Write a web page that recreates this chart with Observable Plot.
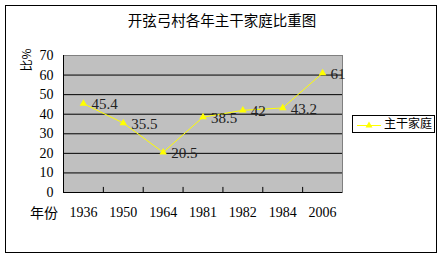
<!DOCTYPE html>
<html><head><meta charset="utf-8">
<script src="https://cdn.jsdelivr.net/npm/d3@7"></script>
<script src="https://cdn.jsdelivr.net/npm/@observablehq/plot@0.6"></script>
<style>
html,body{margin:0;padding:0;background:#fff;}
#wrap{position:relative;width:444px;height:259px;overflow:hidden;font-family:"Liberation Sans","Noto Sans CJK SC",sans-serif;}
#border{position:absolute;left:5px;top:5px;width:430px;height:246px;border:1.5px solid #000;}
.abs{position:absolute;white-space:nowrap;line-height:1;color:#000;}
#title{left:0;width:444px;top:13px;text-align:center;font-size:14.5px;font-family:"Noto Sans CJK SC",sans-serif;}
#ylab{left:14px;top:54px;font-size:12px;font-family:"Noto Sans CJK SC",sans-serif;transform:rotate(-90deg);transform-origin:center;}
#xlab{left:30px;top:205px;font-size:14px;font-family:"Noto Sans CJK SC",sans-serif;}
#legend{left:352px;top:115px;width:81px;height:16px;border:1px solid #000;background:#fff;}
#legend svg{position:absolute;left:4px;top:2px;}
#legend span{position:absolute;left:31px;top:1px;font-size:12px;font-family:"Noto Sans CJK SC",sans-serif;}
#chart{position:absolute;left:0;top:0;}
</style></head>
<body><div id="wrap">
<div id="border"></div>
<div id="title" class="abs"></div>
<div id="ylab" class="abs"></div>
<div id="xlab" class="abs"></div>
<div id="chart"></div>
<div id="legend" class="abs"><svg width="26" height="14"><line x1="0" x2="24" y1="7.5" y2="7.5" stroke="#ffff00" stroke-width="1"/><path d="M12,3.5L15.5,9.5L8.5,9.5Z" fill="#ffff00"/></svg><span></span></div>
</div>
<script>
const titleText = "开弦弓村各年主干家庭比重图";
const yLabel = "比%";
const xLabel = "年份";
const seriesName = "主干家庭";
const years = ["1936", "1950", "1964", "1981", "1982", "1984", "2006"];
const values = [45.4, 35.5, 20.5, 38.5, 42, 43.2, 61];
const yTicks = [0, 10, 20, 30, 40, 50, 60, 70];

document.getElementById("title").textContent = titleText;
document.getElementById("ylab").textContent = yLabel;
document.getElementById("xlab").textContent = xLabel;
document.querySelector("#legend span").textContent = seriesName;

const data = years.map((y, i) => ({i, year: y, v: values[i]}));
const between = years.slice(1).map((_, i) => i + 0.5);
const grid = yTicks.filter(t => t > 0 && t < 70);

const chart = Plot.plot({
  width: 444, height: 259,
  marginTop: 55, marginLeft: 63, marginRight: 102, marginBottom: 67,
  style: {background: "transparent", fontFamily: "Liberation Serif, serif", fontSize: "14px", color: "#000"},
  x: {type: "linear", domain: [-0.5, years.length - 0.5], axis: null},
  y: {domain: [0, 70], axis: null},
  marks: [
    Plot.frame({fill: "#c0c0c0", stroke: "#808080"}),
    Plot.ruleY(grid, {stroke: "#000", strokeWidth: 1}),
    Plot.ruleY([0], {stroke: "#000"}),
    Plot.ruleX([-0.5], {stroke: "#000"}),
    Plot.ruleX(between, {y1: 0, y2: 2.6, stroke: "#000"}),
    Plot.axisY({ticks: yTicks, tickSize: 0, tickPadding: 10, fontSize: 14, label: null}),
    Plot.axisX({ticks: data.map(d => d.i), tickFormat: i => years[i], tickSize: 0, tickPadding: 15, fontSize: 14, label: null}),
    Plot.line(data, {x: "i", y: "v", stroke: "#ffff00", strokeWidth: 1}),
    Plot.dot(data, {x: "i", y: "v", symbol: "triangle", r: 2.8, fill: "#ffff00", stroke: "none"}),
    Plot.text(data, {x: "i", y: "v", text: d => String(d.v), textAnchor: "start", dx: 8, dy: 1, fill: "#222", fontSize: 15})
  ]
});
document.getElementById("chart").appendChild(chart);
</script>
</body></html>
